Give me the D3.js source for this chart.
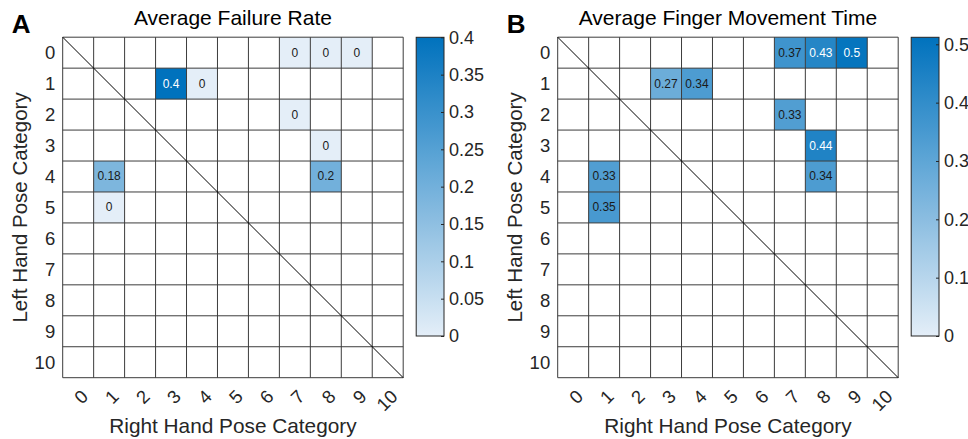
<!DOCTYPE html>
<html><head><meta charset="utf-8">
<script src="https://cdn.jsdelivr.net/npm/d3@7"></script>
<style>
body{margin:0;background:#fff}
text{font-family:"Liberation Sans",Arial,Helvetica,sans-serif}
</style>
</head><body>
<svg id="c" width="968" height="439"></svg>
<script>
const categories = ["0","1","2","3","4","5","6","7","8","9","10"];

const failRows   = [0, 0, 0, 1,   1, 2, 3, 4,    4,   5];
const failCols   = [7, 8, 9, 3,   4, 7, 8, 1,    8,   1];
const failValues = [0, 0, 0, 0.4, 0, 0, 0, 0.18, 0.2, 0];
const failTicks  = [0, 0.05, 0.1, 0.15, 0.2, 0.25, 0.3, 0.35, 0.4];
const failLimits = [0, 0.4];

const timeRows   = [0,    0,    0,   1,    1,    2,    3,    4,    4,    5];
const timeCols   = [7,    8,    9,   3,    4,    7,    8,    1,    8,    1];
const timeValues = [0.37, 0.43, 0.5, 0.27, 0.34, 0.33, 0.44, 0.33, 0.34, 0.35];
const timeTicks  = [0, 0.1, 0.2, 0.3, 0.4, 0.5];
const timeLimits = [0, 0.512];

const panels = [
  {letter:"A", title:"Average Failure Rate", rows:failRows, cols:failCols, values:failValues, ticks:failTicks, limits:failLimits, x0:62.7},
  {letter:"B", title:"Average Finger Movement Time", rows:timeRows, cols:timeCols, values:timeValues, ticks:timeTicks, limits:timeLimits, x0:557.7}
];

const svg = d3.select("#c");
const size = 340.5, y0 = 37.2;
const cbTop = 37.3, cbBot = 336, cbGap = 13, cbW = 27.8;
const lowC = "rgb(228,238,248)", highC = "rgb(0,114,189)";
const gridColor = "#3c3c3c";

panels.forEach((p, pi) => {
  const g = svg.append("g");
  const x = d3.scaleBand().domain(categories).range([p.x0, p.x0 + size]);
  const y = d3.scaleBand().domain(categories).range([y0, y0 + size]);
  const color = d3.scaleLinear().domain(p.limits).range([lowC, highC]).interpolate(d3.interpolateRgb).clamp(true);

  g.append("rect").attr("x", p.x0).attr("y", y0).attr("width", size).attr("height", size).attr("fill", "#fff");

  const cells = p.values.map((v, i) => ({r: categories[p.rows[i]], c: categories[p.cols[i]], v}));
  g.selectAll("rect.cell").data(cells).join("rect")
    .attr("class", "cell")
    .attr("x", d => x(d.c)).attr("y", d => y(d.r))
    .attr("width", x.bandwidth()).attr("height", y.bandwidth())
    .attr("fill", d => color(d.v));

  const edges = categories.map(c => x(c)).concat([p.x0 + size]);
  const yedges = categories.map(c => y(c)).concat([y0 + size]);
  g.selectAll("line.v").data(edges).join("line")
    .attr("x1", d => d).attr("x2", d => d).attr("y1", y0).attr("y2", y0 + size)
    .attr("stroke", gridColor).attr("stroke-width", 1);
  g.selectAll("line.h").data(yedges).join("line")
    .attr("y1", d => d).attr("y2", d => d).attr("x1", p.x0).attr("x2", p.x0 + size)
    .attr("stroke", gridColor).attr("stroke-width", 1);

  g.append("line")
    .attr("x1", x(categories[0])).attr("y1", y(categories[0]))
    .attr("x2", x(categories[10]) + x.bandwidth()).attr("y2", y(categories[10]) + y.bandwidth())
    .attr("stroke", "#000").attr("stroke-width", 1);

  g.selectAll("text.val").data(cells).join("text")
    .attr("x", d => x(d.c) + x.bandwidth() / 2)
    .attr("y", d => y(d.r) + y.bandwidth() / 2)
    .attr("text-anchor", "middle").attr("dominant-baseline", "central")
    .attr("font-size", 12)
    .attr("fill", d => { const c = d3.rgb(color(d.v)); const l = 0.299*c.r + 0.587*c.g + 0.114*c.b; return l < 122 ? "#fff" : "#1a1a1a"; })
    .text(d => String(d.v));

  g.selectAll("text.yt").data(categories).join("text")
    .attr("x", p.x0 - 7.5).attr("y", d => y(d) + y.bandwidth() / 2)
    .attr("text-anchor", "end").attr("dominant-baseline", "central")
    .attr("font-size", 18.5).attr("fill", "#262626").text(d => d);

  g.selectAll("text.xt").data(categories).join("text")
    .attr("transform", d => `translate(${x(d) + x.bandwidth() / 2 + 11},${y0 + size + 20}) rotate(-45)`)
    .attr("text-anchor", "end")
    .attr("font-size", 18.5).attr("fill", "#262626").text(d => d);

  g.append("text").attr("x", p.x0 + size / 2).attr("y", 25).attr("text-anchor", "middle")
    .attr("font-size", 21).attr("fill", "#000").text(p.title);
  g.append("text").attr("x", p.x0 + size / 2).attr("y", 433).attr("text-anchor", "middle")
    .attr("font-size", 20.8).attr("fill", "#262626").text("Right Hand Pose Category");
  g.append("text").attr("transform", `translate(${p.x0 - 35.7},${y0 + size / 2}) rotate(-90)`)
    .attr("text-anchor", "middle")
    .attr("font-size", 20.5).attr("fill", "#262626").text("Left Hand Pose Category");
  g.append("text").attr("x", p.x0 - 51).attr("y", 33).attr("font-size", 26).attr("font-weight", "bold")
    .attr("fill", "#000").text(p.letter);

  const cbX = p.x0 + size + cbGap;
  const gid = "grad" + pi;
  const grad = svg.append("defs").append("linearGradient").attr("id", gid)
    .attr("x1", 0).attr("y1", 1).attr("x2", 0).attr("y2", 0);
  d3.range(0, 1.0001, 0.1).forEach(t => {
    grad.append("stop").attr("offset", t).attr("stop-color", color(p.limits[0] + t * (p.limits[1] - p.limits[0])));
  });
  g.append("rect").attr("x", cbX).attr("y", cbTop).attr("width", cbW).attr("height", cbBot - cbTop)
    .attr("fill", `url(#${gid})`).attr("stroke", "#262626").attr("stroke-width", 1);
  const cs = d3.scaleLinear().domain(p.limits).range([cbBot, cbTop]);
  const ax = g.append("g").attr("transform", `translate(${cbX + cbW},0)`)
    .call(d3.axisRight(cs).tickValues(p.ticks).tickSize(-3).tickPadding(5).tickFormat(d => String(+d.toFixed(2))));
  ax.select(".domain").remove();
  ax.selectAll(".tick line").attr("stroke", "#262626");
  ax.selectAll(".tick text").attr("font-size", 18).attr("fill", "#262626")
    .attr("font-family", "Liberation Sans, Arial, sans-serif");
});
</script>
</body></html>
